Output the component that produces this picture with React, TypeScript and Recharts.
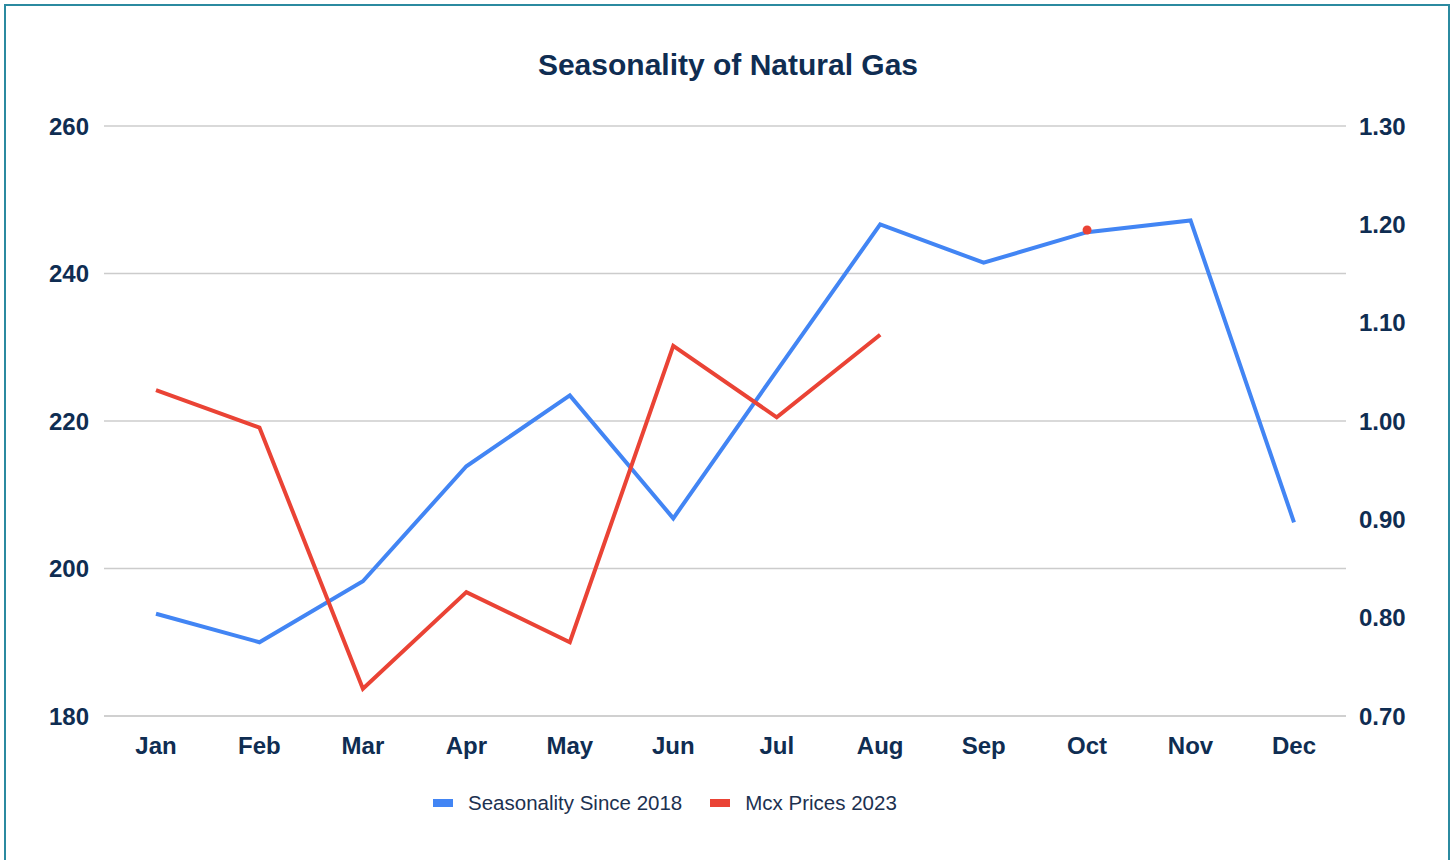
import { LineChart, Line, XAxis, YAxis, CartesianGrid, Legend } from "recharts";

const months = ["Jan", "Feb", "Mar", "Apr", "May", "Jun", "Jul", "Aug", "Sep", "Oct", "Nov", "Dec"];
const seasonality = [0.804, 0.775, 0.837, 0.954, 1.026, 0.901, 1.051, 1.2, 1.161, 1.192, 1.204, 0.897];
const mcxPrices: (number | null)[] = [224.2, 219.1, 183.7, 196.8, 190.0, 230.2, 220.5, 231.7, null, 245.9, null, null];
const leftTicks = [180, 200, 220, 240, 260];
const rightTicks = [0.7, 0.8, 0.9, 1.0, 1.1, 1.2, 1.3];

const data = months.map((m, i) => ({ month: m, seasonality: seasonality[i], mcx: mcxPrices[i] }));

const BLUE = "#4285f4";
const RED = "#ea4335";
const INK = "#0f2d52";
const tickStyle = { fontSize: 24, fontWeight: 700, fill: INK, fontFamily: "'Liberation Sans', Arial, sans-serif" };

const LegendContent = () => (
  <div
    style={{
      display: "flex",
      justifyContent: "flex-start",
      paddingLeft: 433,
      gap: 28,
      fontFamily: "'Liberation Sans', Arial, sans-serif",
      fontSize: 20.5,
      color: "#1c3150",
    }}
  >
    {[
      { name: "Seasonality Since 2018", color: BLUE },
      { name: "Mcx Prices 2023", color: RED },
    ].map((e) => (
      <div key={e.name} style={{ display: "flex", alignItems: "center", gap: 15 }}>
        <span style={{ width: 20, height: 8, background: e.color, display: "inline-block" }} />
        <span>{e.name}</span>
      </div>
    ))}
  </div>
);

export default function App() {
  return (
    <div style={{ position: "absolute", left: 0, top: 0, width: 1452, height: 860, background: "#fff" }}>
      <div
        style={{
          position: "absolute",
          left: 4,
          top: 4,
          width: 1446,
          height: 900,
          border: "2px solid #2b8aa0",
          boxSizing: "border-box",
        }}
      />
      <div
        style={{
          position: "absolute",
          left: 0,
          top: 48,
          width: 1456,
          textAlign: "center",
          fontFamily: "'Liberation Sans', Arial, sans-serif",
          fontWeight: 700,
          fontSize: 30,
          color: INK,
        }}
      >
        Seasonality of Natural Gas
      </div>
      <div style={{ position: "absolute", left: 0, top: 0 }}>
        <LineChart width={1452} height={860} data={data} margin={{ top: 126, right: 0, bottom: 45, left: 0 }}>
          <CartesianGrid vertical={false} stroke="#cccccc" strokeWidth={1.5} yAxisId="left" />
          <XAxis
            dataKey="month"
            tick={tickStyle}
            tickLine={false}
            axisLine={{ stroke: "#cccccc", strokeWidth: 1.5 }}
            padding={{ left: 52, right: 52 }}
            height={75}
            tickSize={0}
            tickMargin={21}
            interval={0}
          />
          <YAxis
            yAxisId="left"
            orientation="left"
            domain={[180, 260]}
            ticks={leftTicks}
            tick={tickStyle}
            tickLine={false}
            axisLine={false}
            width={104}
            tickSize={0}
            tickMargin={15}
          />
          <YAxis
            yAxisId="right"
            orientation="right"
            domain={[0.7, 1.3]}
            ticks={rightTicks}
            tickFormatter={(v: number) => v.toFixed(2)}
            tick={{ ...tickStyle, textAnchor: "start" }}
            tickLine={false}
            axisLine={false}
            width={106}
            tickSize={0}
            tickMargin={13}
          />
          <Legend verticalAlign="bottom" content={<LegendContent />} />
          <Line
            yAxisId="right"
            type="linear"
            dataKey="seasonality"
            name="Seasonality Since 2018"
            stroke={BLUE}
            strokeWidth={4}
            dot={false}
            isAnimationActive={false}
          />
          <Line
            yAxisId="left"
            type="linear"
            dataKey="mcx"
            name="Mcx Prices 2023"
            stroke={RED}
            strokeWidth={4}
            dot={(p: any) =>
              p.index === 9 && p.value != null ? (
                <circle key={`d${p.index}`} cx={p.cx} cy={p.cy} r={4.5} fill={RED} />
              ) : (
                <g key={`d${p.index}`} />
              )
            }
            isAnimationActive={false}
          />
        </LineChart>
      </div>
    </div>
  );
}
